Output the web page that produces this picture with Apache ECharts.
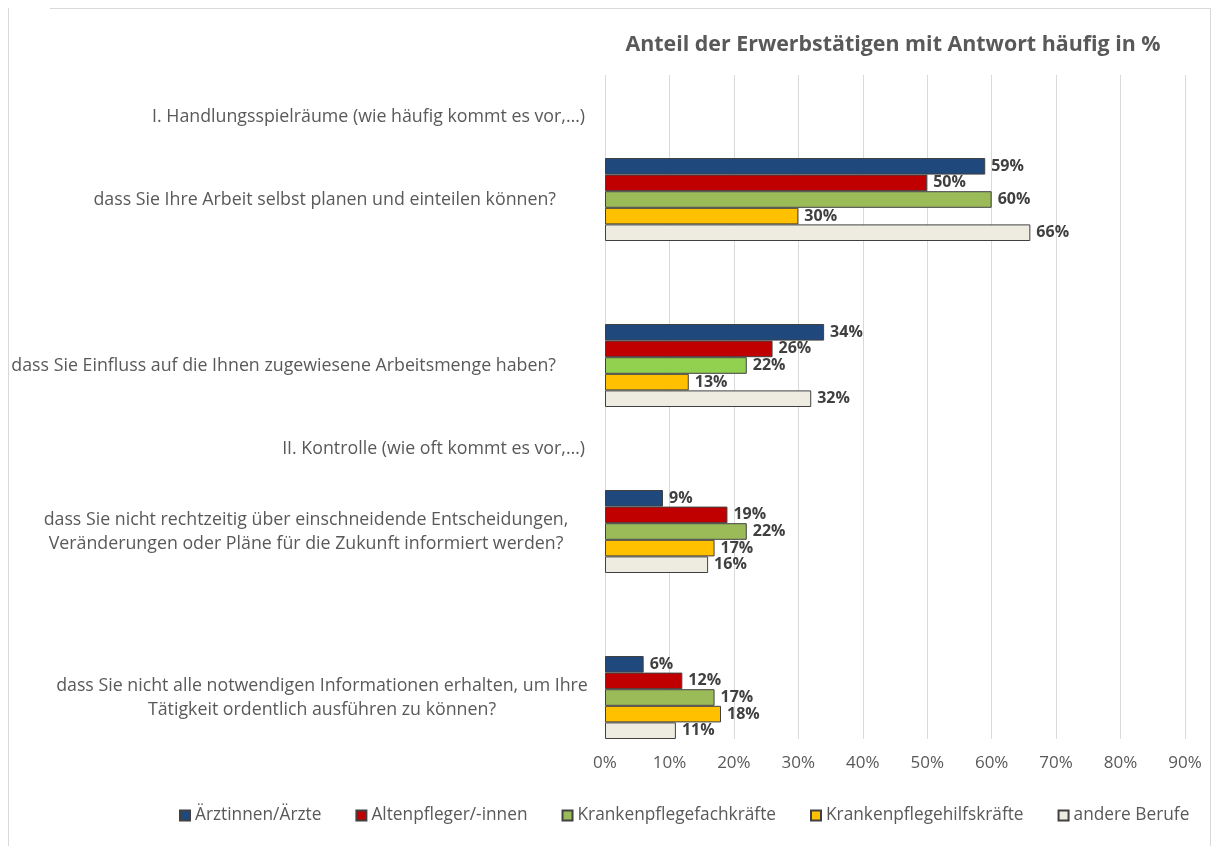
<!DOCTYPE html>
<html>
<head>
<meta charset="utf-8">
<script src="https://cdn.jsdelivr.net/npm/echarts@6/dist/echarts.min.js"></script>
<style>
  html, body { margin: 0; padding: 0; background: #fff; }
  #chart { width: 1219px; height: 846px; }
</style>
</head>
<body>
<div id="chart"></div>
<script>
// Kategorien von oben nach unten (leere Zeilen als Abstand)
const categories = [
  'I. Handlungsspielräume (wie häufig kommt es vor,…)',
  'dass Sie Ihre Arbeit selbst planen und einteilen können?',
  ' ',
  'dass Sie Einfluss auf die Ihnen zugewiesene Arbeitsmenge haben?',
  'II. Kontrolle (wie oft kommt es vor,…)',
  'dass Sie nicht rechtzeitig über einschneidende Entscheidungen,\nVeränderungen oder Pläne für die Zukunft informiert werden?',
  '  ',
  'dass Sie nicht alle notwendigen Informationen erhalten, um Ihre\nTätigkeit ordentlich ausführen zu können?'
];
const headers = [0, 4];

const seriesNames = ['Ärztinnen/Ärzte', 'Altenpfleger/-innen', 'Krankenpflegefachkräfte', 'Krankenpflegehilfskräfte', 'andere Berufe'];
const aerzte = [null, 59, null, 34, null, 9, null, 6];
const altenpfleger = [null, 50, null, 26, null, 19, null, 12];
const fachkraefte = [null, 60, null, 22, null, 22, null, 17];
const hilfskraefte = [null, 30, null, 13, null, 17, null, 18];
const andere = [null, 66, null, 32, null, 16, null, 11];
const xTicks = [0, 10, 20, 30, 40, 50, 60, 70, 80, 90];

const colors = ['#1F497D', '#C00000', '#9BBB59', '#FFC000', '#EEECE1'];
const font = 'Open Sans';

const chart = echarts.init(document.getElementById('chart'));

function makeSeries(name, data, color) {
  return {
    name: name,
    type: 'bar',
    data: data,
    barWidth: 16.6,
    barGap: '0%',
    itemStyle: { color: color, borderColor: '#404040', borderWidth: 1 },
    label: {
      show: true,
      position: 'right',
      distance: 6,
      formatter: '{c}%',
      color: '#404040',
      fontWeight: 'bold',
      fontSize: 16,
      fontFamily: font
    }
  };
}

const series = [
  makeSeries(seriesNames[0], aerzte, colors[0]),
  makeSeries(seriesNames[1], altenpfleger, colors[1]),
  // der grüne Balken bei "Einfluss" ist im Original heller
  makeSeries(seriesNames[2], fachkraefte.map((v, i) => i === 3 ? { value: v, itemStyle: { color: '#92D050' } } : v), colors[2]),
  makeSeries(seriesNames[3], hilfskraefte, colors[3]),
  makeSeries(seriesNames[4], andere, colors[4])
];

const labelStyle = { color: '#595959', fontSize: 17.8, fontFamily: font, lineHeight: 24 };

chart.setOption({
  backgroundColor: '#fff',
  animation: false,
  textStyle: { fontFamily: font },
  title: {
    text: 'Anteil der Erwerbstätigen mit Antwort häufig in %',
    left: 888,
    textAlign: 'center',
    top: 29,
    textStyle: { color: '#595959', fontSize: 21.4, fontWeight: 'bold', fontFamily: font }
  },
  legend: {
    bottom: 17,
    left: 174,
    icon: 'rect',
    itemWidth: 10,
    itemHeight: 10,
    itemGap: 34,
    textStyle: { color: '#595959', fontSize: 17.3, fontFamily: font },
    data: seriesNames
  },
  grid: { left: 605, right: 34, top: 75, bottom: 107 },
  xAxis: {
    type: 'value',
    min: 0,
    max: 90,
    interval: 10,
    axisLine: { show: false },
    axisTick: { show: false },
    splitLine: { lineStyle: { color: '#d9d9d9' } },
    axisLabel: {
      formatter: v => xTicks.includes(v) ? v + '%' : '',
      color: '#595959',
      fontSize: 17,
      margin: 16
    }
  },
  yAxis: {
    type: 'category',
    inverse: true,
    data: categories,
    axisLine: { show: false },
    axisTick: { show: false },
    axisLabel: {
      margin: 20,
      interval: 0,
      formatter: function (value, idx) {
        if (headers.includes(idx)) return '{h|' + value + '}';
        if (idx === 5) return value.split('\n').map(s => '{c1|' + s + '}').join('\n');
        if (idx === 7) return value.split('\n').map(s => '{c2|' + s + '}').join('\n');
        return '{q|' + value + '}';
      },
      rich: {
        h: Object.assign({}, labelStyle),
        q: Object.assign({ padding: [0, 29, 0, 0] }, labelStyle),
        c1: Object.assign({ width: 558, align: 'center' }, labelStyle),
        c2: Object.assign({ width: 526, align: 'center' }, labelStyle)
      }
    }
  },
  graphic: [
    { type: 'line', shape: { x1: 8.5, y1: 8, x2: 8.5, y2: 846 }, style: { stroke: '#d9d9d9', lineWidth: 1 } },
    { type: 'line', shape: { x1: 50, y1: 8.5, x2: 1210, y2: 8.5 }, style: { stroke: '#d9d9d9', lineWidth: 1 } },
    { type: 'line', shape: { x1: 1210.5, y1: 8, x2: 1210.5, y2: 846 }, style: { stroke: '#d9d9d9', lineWidth: 1 } }
  ],
  series: series
});
</script>
</body>
</html>
